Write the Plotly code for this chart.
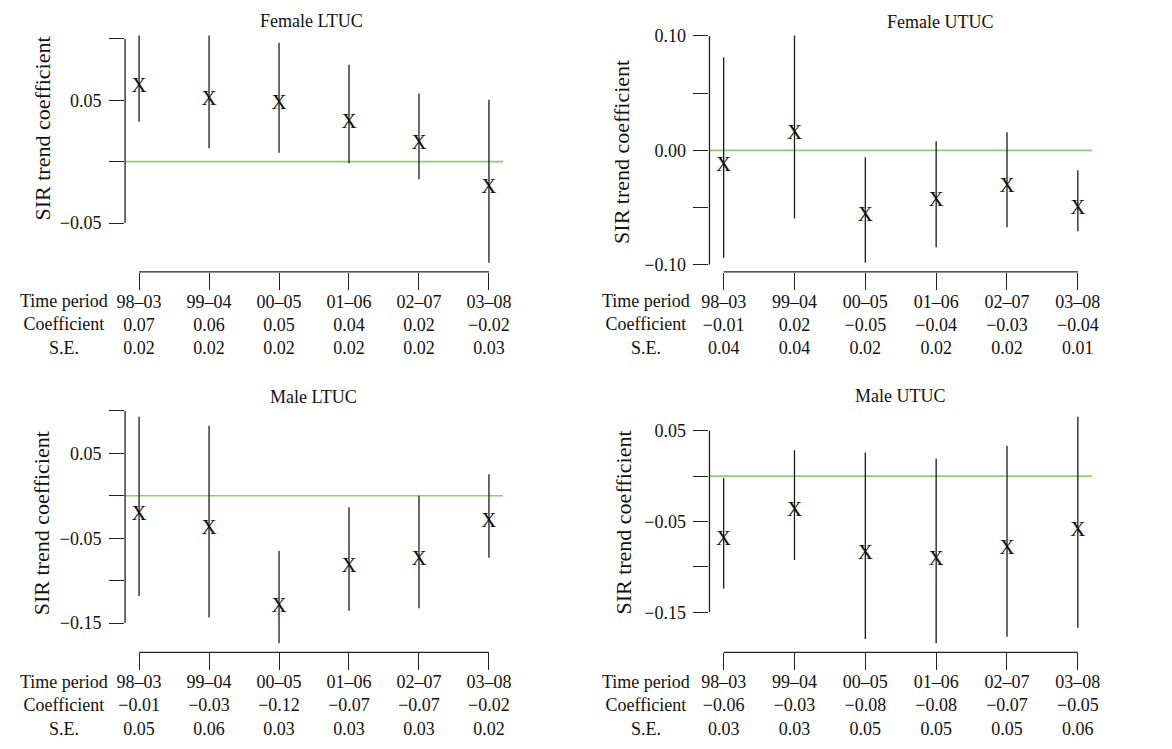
import plotly.graph_objects as go

W, H = 1172, 749
FONT = "Liberation Serif"

periods = ["98–03", "99–04", "00–05", "01–06", "02–07", "03–08"]
x_pos = [1, 2, 3, 4, 5, 6]

# Female LTUC
fl_est = [0.061, 0.0505, 0.0468, 0.0316, 0.0143, -0.0216]
fl_low = [0.0324, 0.0109, 0.0073, -0.0013, -0.0143, -0.0823]
fl_up = [0.1027, 0.1027, 0.0968, 0.0789, 0.0554, 0.0505]
fl_coef = ["0.07", "0.06", "0.05", "0.04", "0.02", "−0.02"]
fl_se = ["0.02", "0.02", "0.02", "0.02", "0.02", "0.03"]

# Female UTUC
fu_est = [-0.0134, 0.0142, -0.0576, -0.0445, -0.0323, -0.0512]
fu_low = [-0.094, -0.0597, -0.0984, -0.0847, -0.0672, -0.0707]
fu_up = [0.0812, 0.1004, -0.0061, 0.0079, 0.0157, -0.0175]
fu_coef = ["−0.01", "0.02", "−0.05", "−0.04", "−0.03", "−0.04"]
fu_se = ["0.04", "0.04", "0.02", "0.02", "0.02", "0.01"]

# Male LTUC
ml_est = [-0.0223, -0.039, -0.1308, -0.0839, -0.075, -0.0308]
ml_low = [-0.118, -0.1434, -0.1738, -0.1355, -0.1324, -0.073]
ml_up = [0.0931, 0.0825, -0.0652, -0.0136, 0.0000, 0.0254]
ml_coef = ["−0.01", "−0.03", "−0.12", "−0.07", "−0.07", "−0.02"]
ml_se = ["0.05", "0.06", "0.03", "0.03", "0.03", "0.02"]

# Male UTUC
mu_est = [-0.0705, -0.0385, -0.0851, -0.0917, -0.0796, -0.0606]
mu_low = [-0.1237, -0.0925, -0.1795, -0.1842, -0.1769, -0.1670]
mu_up = [-0.0025, 0.0286, 0.0261, 0.0195, 0.0335, 0.0654]
mu_coef = ["−0.06", "−0.03", "−0.08", "−0.08", "−0.07", "−0.05"]
mu_se = ["0.03", "0.03", "0.05", "0.05", "0.05", "0.06"]

# y-axis ticks (R style: alternate labels)
fl_yt = [-0.05, 0.0, 0.05, 0.10]
fl_ytl = ["−0.05", "", "0.05", ""]
fu_yt = [-0.10, -0.05, 0.0, 0.05, 0.10]
fu_ytl = ["−0.10", "", "0.00", "", "0.10"]
ml_yt = [-0.15, -0.10, -0.05, 0.0, 0.05, 0.10]
ml_ytl = ["−0.15", "", "−0.05", "", "0.05", ""]
mu_yt = [-0.15, -0.10, -0.05, 0.0, 0.05]
mu_ytl = ["−0.15", "", "−0.05", "", "0.05"]

titles = ["Female LTUC", "Female UTUC", "Male LTUC", "Male UTUC"]
row_label = "Time period<br>Coefficient<br>S.E."
y_title = "SIR trend coefficient"

# layout geometry (pixels)
col_x = [(118.7, 501.8), (711.2, 1099.0)]
row_y = [(26.5, 273.0), (409.3, 655.0)]
title_pos = [(307.5, 21), (945, 22.5), (310, 398.3), (904, 397.5)]
ylab_pos = [(35, 129.5), (622.5, 152.5), (34, 525.8), (624, 524.2)]
rowlab_x = [57, 647, 57, 647]

panels = [
    (fl_est, fl_low, fl_up, fl_coef, fl_se, fl_yt, fl_ytl, 0, 0),
    (fu_est, fu_low, fu_up, fu_coef, fu_se, fu_yt, fu_ytl, 1, 0),
    (ml_est, ml_low, ml_up, ml_coef, ml_se, ml_yt, ml_ytl, 0, 1),
    (mu_est, mu_low, mu_up, mu_coef, mu_se, mu_yt, mu_ytl, 1, 1),
]

fig = go.Figure()
shapes = []
annotations = []
layout = {}

for i, (est, low, up, coef, se, yt, ytl, c, r) in enumerate(panels):
    k = "" if i == 0 else str(i + 1)
    xa, ya = "x" + k, "y" + k
    fig.add_trace(go.Scatter(
        x=x_pos, y=est, mode="text", text=["X"] * len(est),
        textposition="middle center",
        textfont=dict(family=FONT, size=21, color="#111"),
        error_y=dict(type="data", symmetric=False,
                     array=[u - e for u, e in zip(up, est)],
                     arrayminus=[e - l for e, l in zip(est, low)],
                     width=0, thickness=1.3, color="#1a1a1a"),
        xaxis=xa, yaxis=ya, showlegend=False, hoverinfo="skip",
    ))
    lo, hi = min(low), max(up)
    pad = 0.04 * (hi - lo)
    x0p, x1p = col_x[c]
    y0p, y1p = row_y[r]
    layout["xaxis" + k] = dict(
        domain=[x0p / W, x1p / W], range=[0.8, 6.2], anchor=ya,
        tickmode="array", tickvals=x_pos,
        ticktext=[f"{p}<br>{cf}<br>{s}" for p, cf, s in zip(periods, coef, se)],
        ticks="outside", ticklen=17, tickwidth=1.3, tickcolor="#222",
        ticklabelstandoff=-4,
        showline=False, showgrid=False, zeroline=False,
        tickfont=dict(family=FONT, size=18, color="#111"),
    )
    layout["yaxis" + k] = dict(
        domain=[1 - y1p / H, 1 - y0p / H], range=[lo - pad, hi + pad], anchor=xa,
        tickmode="array", tickvals=yt, ticktext=ytl,
        ticks="outside", ticklen=15, tickwidth=1.3, tickcolor="#222",
        ticklabelstandoff=4,
        showline=False, showgrid=False, zeroline=False,
        tickfont=dict(family=FONT, size=18, color="#111"),
    )
    # R-style axis lines spanning first to last tick
    shapes.append(dict(type="line", xref=xa + " domain", yref=ya,
                       x0=0, x1=0, y0=min(yt), y1=max(yt),
                       line=dict(color="#222", width=1.3)))
    shapes.append(dict(type="line", xref=xa, yref=ya + " domain",
                       x0=min(x_pos), x1=max(x_pos), y0=0, y1=0,
                       line=dict(color="#222", width=1.3)))
    # zero reference line
    shapes.append(dict(type="line", xref=xa + " domain", yref=ya,
                       x0=0, x1=1, y0=0, y1=0, layer="below",
                       line=dict(color="#8ccf6e", width=1.7)))
    tx, ty = title_pos[i]
    annotations.append(dict(text=titles[i], xref="paper", yref="paper",
                            x=tx / W, y=1 - ty / H, showarrow=False,
                            xanchor="center", yanchor="middle",
                            font=dict(family=FONT, size=18, color="#111")))
    lx, ly = ylab_pos[i]
    annotations.append(dict(text=y_title, xref="paper", yref="paper",
                            x=lx / W, y=1 - ly / H, showarrow=False, textangle=-90,
                            xanchor="center", yanchor="middle",
                            font=dict(family=FONT, size=22, color="#111")))
    annotations.append(dict(text=row_label, xref="paper", yref=ya + " domain",
                            x=rowlab_x[i] / W, y=0, yshift=-53, showarrow=False,
                            xanchor="center", yanchor="middle", align="center",
                            font=dict(family=FONT, size=18, color="#111")))

fig.update_layout(
    width=W, height=H, margin=dict(l=0, r=0, t=0, b=0),
    paper_bgcolor="white", plot_bgcolor="white",
    shapes=shapes, annotations=annotations, **layout,
)
fig.write_html("out.html", config={"displayModeBar": False},
               post_script="document.body.style.margin='0';document.body.style.overflow='hidden';")
